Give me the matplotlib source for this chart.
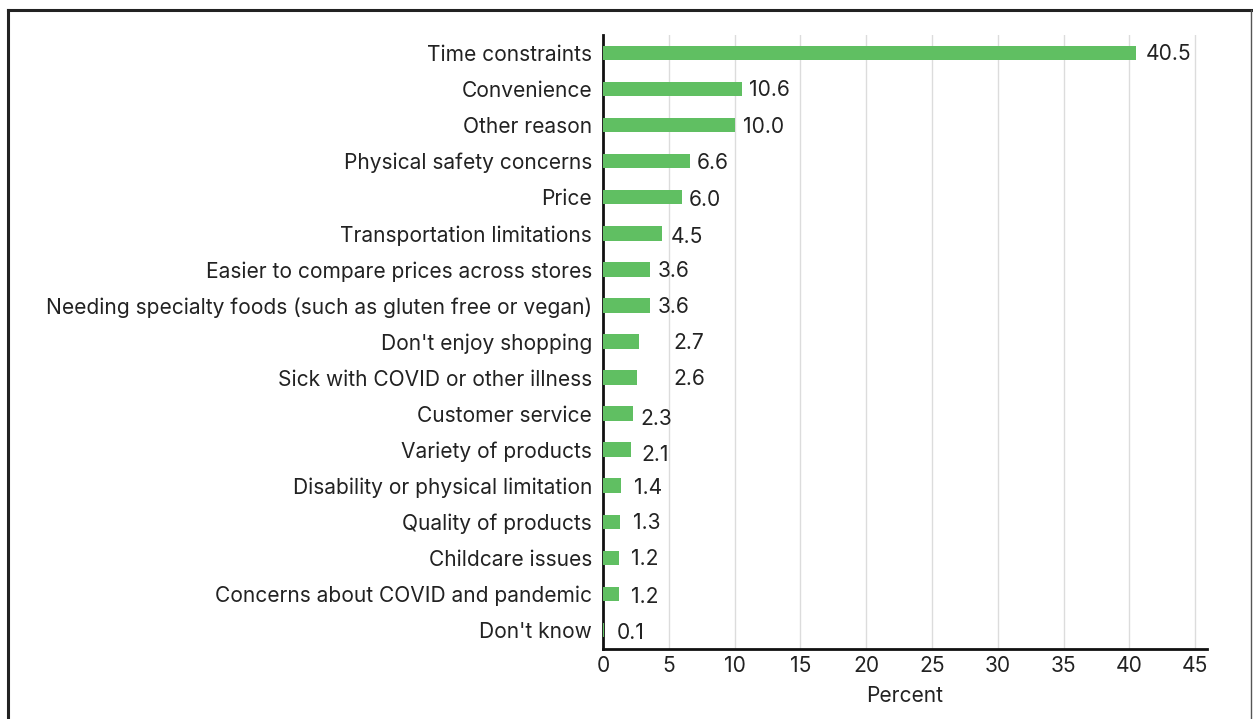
import matplotlib
matplotlib.use('Agg')
import matplotlib.pyplot as plt
from matplotlib.lines import Line2D

# data
reasons = ['Time constraints', 'Convenience', 'Other reason', 'Physical safety concerns',
           'Price', 'Transportation limitations', 'Easier to compare prices across stores',
           'Needing specialty foods (such as gluten free or vegan)', "Don't enjoy shopping",
           'Sick with COVID or other illness', 'Customer service', 'Variety of products',
           'Disability or physical limitation', 'Quality of products', 'Childcare issues',
           'Concerns about COVID and pandemic', "Don't know"]
percent = [40.5, 10.6, 10.0, 6.6, 6.0, 4.5, 3.6, 3.6, 2.7, 2.6, 2.3, 2.1, 1.4, 1.3, 1.2, 1.2, 0.1]
xticks = [0, 5, 10, 15, 20, 25, 30, 35, 40, 45]

# label offsets (points) to mimic the original placement
label_dx = [7, 5, 6, 5, 5, 6, 5, 5, 25, 26, 5, 8, 9, 9, 9, 9, 9]
label_dy = [-1, -1, -1, -1, -2, -3, -1, -1, -1, -1, -4, -4, -2, -1, -1, -2, -2]

FS = 15.1
plt.rcParams['font.family'] = ['Inter', 'DejaVu Sans']

fig = plt.figure(figsize=(12.53, 7.19), dpi=100)
ax = fig.add_axes([603 / 1253, 1 - 649 / 719, 604 / 1253, (649 - 35) / 719])

y = list(range(len(reasons)))
ax.barh(y, percent, height=0.4, color='#60bf62', zorder=3)
for i, v in enumerate(percent):
    ax.annotate(f'{v:.1f}', (v, i), xytext=(label_dx[i], label_dy[i]),
                textcoords='offset points', va='center', ha='left',
                fontsize=FS, color='#222222')

ax.set_yticks(y)
ax.set_yticklabels(reasons)
ax.set_ylim(len(reasons) - 0.47, -0.5)
ax.set_xlim(0, 45.9)
ax.set_xticks(xticks)
ax.set_xlabel('Percent', fontsize=FS, color='#222222', labelpad=7)
ax.tick_params(axis='y', length=0, pad=8, labelsize=FS, labelcolor='#222222')
ax.tick_params(axis='x', length=0, pad=5, labelsize=FS, labelcolor='#222222')
ax.grid(axis='x', color='#dcdcdc', linewidth=1, zorder=0)
for s in ['top', 'right']:
    ax.spines[s].set_visible(False)
ax.spines['left'].set_linewidth(2)
ax.spines['bottom'].set_linewidth(2)
ax.spines['left'].set_color('#111111')
ax.spines['bottom'].set_color('#111111')

# outer frame
fig.add_artist(Line2D([8 / 1253, 8 / 1253], [0, 1 - 10 / 719], transform=fig.transFigure,
                      color='#222222', linewidth=2.2))
fig.add_artist(Line2D([8 / 1253, 1], [1 - 10 / 719, 1 - 10 / 719], transform=fig.transFigure,
                      color='#222222', linewidth=2.2))
fig.add_artist(Line2D([1251 / 1253, 1251 / 1253], [0, 1 - 10 / 719], transform=fig.transFigure,
                      color='#555555', linewidth=1))

fig.savefig('out.png', dpi=100)
